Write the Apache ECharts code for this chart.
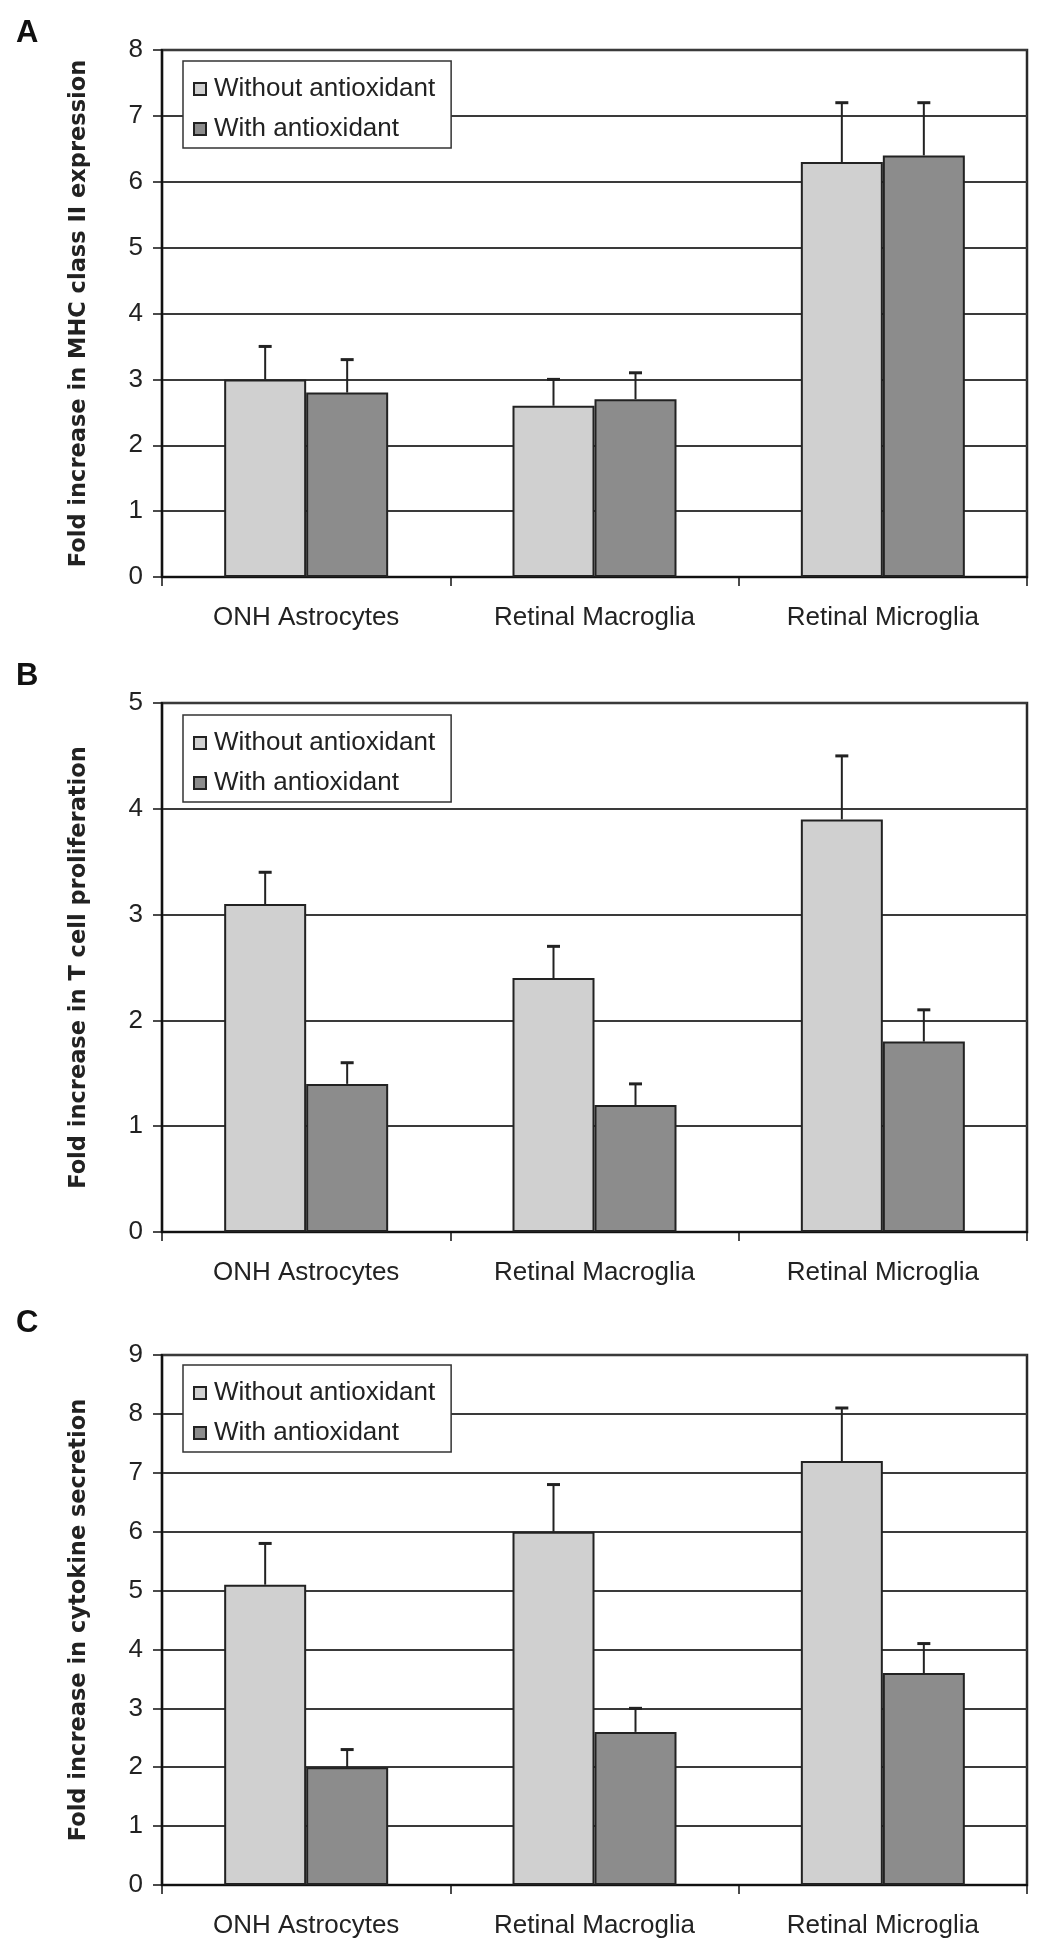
<!DOCTYPE html>
<html>
<head>
<meta charset="utf-8">
<script src="https://cdn.jsdelivr.net/npm/echarts@6/dist/echarts.min.js"></script>
<style>
html,body{margin:0;padding:0;background:#fff;}
#chart{width:1050px;height:1958px;}
</style>
</head>
<body>
<div id="chart"></div>
<script>
const categories = ['ONH Astrocytes', 'Retinal Macroglia', 'Retinal Microglia'];
const seriesNames = ['Without antioxidant', 'With antioxidant'];

const mhcWithout = [3.0, 2.6, 6.3];
const mhcWithoutErr = [0.5, 0.4, 0.9];
const mhcWith = [2.8, 2.7, 6.4];
const mhcWithErr = [0.5, 0.4, 0.8];

const tcellWithout = [3.1, 2.4, 3.9];
const tcellWithoutErr = [0.3, 0.3, 0.6];
const tcellWith = [1.4, 1.2, 1.8];
const tcellWithErr = [0.2, 0.2, 0.3];

const cytoWithout = [5.1, 6.0, 7.2];
const cytoWithoutErr = [0.7, 0.8, 0.9];
const cytoWith = [2.0, 2.6, 3.6];
const cytoWithErr = [0.3, 0.4, 0.5];

const panelLetters = ['A', 'B', 'C'];
const yTitles = ['Fold increase in MHC class II expression', 'Fold increase in T cell proliferation', 'Fold increase in cytokine secretion'];
const yMax = [8, 5, 9];

const panels = [
  {w: mhcWithout, we: mhcWithoutErr, a: mhcWith, ae: mhcWithErr},
  {w: tcellWithout, we: tcellWithoutErr, a: tcellWith, ae: tcellWithErr},
  {w: cytoWithout, we: cytoWithoutErr, a: cytoWith, ae: cytoWithErr}
];

// layout (pixels)
const gridTops = [50, 703, 1355];
const gridBottoms = [577, 1232, 1885];
const legendTops = [61, 715, 1365];
const letterY = [35, 678, 1325];
const BAR_W = 82;
const LIGHT = '#d0d0d0', DARK = '#8c8c8c';
const FONT = '"Liberation Sans", Arial, sans-serif';

function errRender(sign) {
  return function (params, api) {
    const x = api.value(0), v = api.value(1), hi = api.value(2);
    const p0 = api.coord([x, v]);
    const p1 = api.coord([x, hi]);
    const cx = p0[0] + sign * BAR_W / 2;
    return {
      type: 'group',
      children: [
        {type: 'line', shape: {x1: cx, y1: p0[1], x2: cx, y2: p1[1]}, style: {stroke: '#222', lineWidth: 2}},
        {type: 'line', shape: {x1: cx - 6.5, y1: p1[1], x2: cx + 6.5, y2: p1[1]}, style: {stroke: '#222', lineWidth: 3}}
      ]
    };
  };
}

const grid = [], xAxis = [], yAxis = [], series = [], legend = [], graphic = [];
panels.forEach((p, i) => {
  grid.push({left: 162, width: 865, top: gridTops[i], height: gridBottoms[i] - gridTops[i],
    show: true, borderColor: '#2a2a2a', borderWidth: 2.5, backgroundColor: '#fff'});
  xAxis.push({type: 'category', gridIndex: i, data: categories,
    axisLine: {lineStyle: {color: '#111', width: 2.2}},
    axisTick: {show: true, length: 9, lineStyle: {color: '#111', width: 1.5}},
    axisLabel: {fontFamily: FONT, fontSize: 26, color: '#222', margin: 28},
    splitLine: {show: false}});
  yAxis.push({type: 'value', gridIndex: i, min: 0, max: yMax[i], interval: 1,
    name: yTitles[i], nameLocation: 'middle', nameGap: 71, nameRotate: 90,
    nameTextStyle: {fontFamily: '"DejaVu Sans", sans-serif', fontWeight: 'bold', fontSize: 22.5, color: '#222'},
    axisLine: {show: true, lineStyle: {color: '#111', width: 2.2}},
    axisTick: {show: true, length: 9, lineStyle: {color: '#111', width: 1.5}},
    axisLabel: {fontFamily: FONT, fontSize: 26, color: '#222', margin: 19},
    splitLine: {show: true, lineStyle: {color: '#3a3a3a', width: 2}}});
  series.push({type: 'bar', name: seriesNames[0], xAxisIndex: i, yAxisIndex: i, data: p.w,
    barWidth: BAR_W, barGap: '0%',
    itemStyle: {color: LIGHT, borderColor: '#222', borderWidth: 2}, z: 3});
  series.push({type: 'bar', name: seriesNames[1], xAxisIndex: i, yAxisIndex: i, data: p.a,
    barWidth: BAR_W, barGap: '0%',
    itemStyle: {color: DARK, borderColor: '#222', borderWidth: 2}, z: 3});
  series.push({type: 'custom', xAxisIndex: i, yAxisIndex: i, z: 5,
    data: p.w.map((v, k) => [k, v, v + p.we[k]]), renderItem: errRender(-1), silent: true});
  series.push({type: 'custom', xAxisIndex: i, yAxisIndex: i, z: 5,
    data: p.a.map((v, k) => [k, v, v + p.ae[k]]), renderItem: errRender(1), silent: true});
  legend.push({data: seriesNames, orient: 'vertical', left: 183, top: legendTops[i],
    backgroundColor: '#fff', borderColor: '#333', borderWidth: 1.5,
    padding: [15, 16, 6, 10], itemGap: 14, itemWidth: 12, itemHeight: 12, icon: 'rect',
    selectedMode: false,
    textStyle: {fontFamily: FONT, fontSize: 26, color: '#222', padding: [0, 0, 0, 3]}});
  graphic.push({type: 'text', left: 16, top: letterY[i] - 17,
    style: {text: panelLetters[i], font: 'bold 31px "Liberation Sans", Arial, sans-serif', fill: '#111'}});
});

const chart = echarts.init(document.getElementById('chart'), null, {renderer: 'canvas'});
chart.setOption({
  animation: false,
  backgroundColor: '#fff',
  grid, xAxis, yAxis, series, legend, graphic
});
</script>
</body>
</html>
